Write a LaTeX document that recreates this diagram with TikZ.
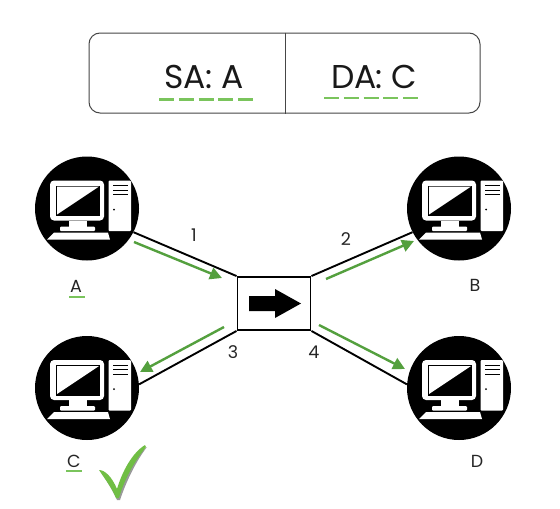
\documentclass[tikz,border=0pt]{standalone}
\usepackage{fontspec}
\setmainfont{Poppins}
\usetikzlibrary{arrows.meta}
\definecolor{grn}{RGB}{84,160,62}
\definecolor{lgrn}{RGB}{122,196,92}
\definecolor{chk}{RGB}{112,190,68}
\definecolor{boxgray}{RGB}{70,70,70}
\tikzset{
  x=1pt,y=-1pt,
  hostnode/.style={circle,fill=black,draw=none,minimum size=104pt,inner sep=0pt},
  link/.style={draw=black,line width=1.9pt},
  flow/.style={draw=grn,line width=2.4pt,-{Triangle[length=12pt,width=12pt]}},
  lbl/.style={font=\fontsize{17.5}{20}\selectfont,text=black!85,inner sep=0pt},
  big/.style={font=\fontsize{33}{36}\selectfont\addfontfeature{LetterSpace=-1},text=black!90,inner sep=0pt,anchor=base},
  uline/.style={draw=lgrn,line width=2pt},
  dashline/.style={draw=lgrn,line width=2.7pt,dash pattern=on 15pt off 4.75pt},
  pics/computer/.style={code={
    \fill[white,rounded corners=4pt] (-37,-28) rectangle (17,12);
    \fill[black] (-31,-23) rectangle (13,7.5);
    \fill[white] (-30,-22) -- (12,-22) -- (-30,6) -- cycle;
    \fill[white] (-18,12) rectangle (0,18);
    \fill[white,rounded corners=1pt] (-27,18) rectangle (8,22.5);
    \fill[white] (-40,31) -- (-33,24) -- (21,24) -- (23,31) -- cycle;
    \fill[white,rounded corners=1pt] (21.5,-28) rectangle (44,22.5);
    \draw[black,line width=1pt] (26,-23) -- (41,-23) (26,-18.5) -- (41,-18.5) (26,-14) -- (41,-14);
    \fill[black] (27,1) circle (1pt);
  }}
}
\begin{document}
\begin{tikzpicture}
\useasboundingbox (0,0) rectangle (560,509);
\fill[white] (0,0) rectangle (560,509);
% header
\node[draw=boxgray,line width=1pt,rounded corners=11pt,minimum width=391pt,minimum height=80pt,inner sep=0pt] (hdr) at (284.5,73) {};
\draw[boxgray,line width=1pt] (hdr.north -| 285,0) -- (hdr.south -| 285,0);
\node[big] (sa) at (204,88) {SA: A};
\node[big] (da) at (374,88) {DA: C};
\draw[dashline] (159,99.5) -- (254,99.5);
\draw[dashline] (324,98) -- (419,98);
% hosts
\node[hostnode] (A) at (87,208.5) {};
\node[hostnode] (B) at (459,208.5) {};
\node[hostnode] (C) at (87,388) {};
\node[hostnode] (D) at (459,388) {};
\pic at (A) {computer};
\pic at (B) {computer};
\pic at (C) {computer};
\pic at (D) {computer};
% switch
\node[draw=black,line width=1.9pt,minimum width=73pt,minimum height=53pt,inner sep=0pt] (sw) at (274,303.5) {};
\fill[black] (249,296) -- (275,296) -- (275,289) -- (301,303.5) -- (275,318) -- (275,311) -- (249,311) -- cycle;
% links
\draw[link] (sw.north west) -- (A.-27.5);
\draw[link] (sw.north east) -- (B.207.5);
\draw[link] (sw.south west) -- (C.4);
\draw[link] (sw.south east) -- (D.176);
% flows
\coordinate (a1) at (134,242); \coordinate (a2) at (222,278);
\coordinate (b1) at (326,279); \coordinate (b2) at (414,241);
\coordinate (c1) at (224,327); \coordinate (c2) at (140,372);
\coordinate (d1) at (319,325); \coordinate (d2) at (405,369);
\draw[flow] (a1) -- (a2);
\draw[flow] (b1) -- (b2);
\draw[flow] (c1) -- (c2);
\draw[flow] (d1) -- (d2);
% labels
\node[lbl] (n1) at (194,235) {1};
\node[lbl] (n2) at (346,239) {2};
\node[lbl] (n3) at (233,352) {3};
\node[lbl] (n4) at (314,352) {4};
\node[lbl] (la) at (76,286) {A};
\node[lbl] (lb) at (475,285) {B};
\node[lbl] (lc) at (74,461) {C};
\node[lbl] (ld) at (477,461) {D};
\draw[uline] (69,297) -- (85,297);
\draw[uline] (66,471) -- (82,471);
% check
\fill[black!40] (101,472) .. controls (107,475) and (113,483) .. (118,492) .. controls (124,474) and (134,457) .. (147,447) .. controls (136,461) and (126,482) .. (120,500) -- (117,500) .. controls (112,489) and (106,480) .. (101,472) -- cycle;
\fill[chk] (99,470) .. controls (105,470) and (112,477) .. (117,489) .. controls (122,472) and (132,453) .. (145,445) -- (146,447) .. controls (134,462) and (124,480) .. (119,498) -- (116,498) .. controls (112,488) and (105,479) .. (99,470) -- cycle;
\end{tikzpicture}
\end{document}
